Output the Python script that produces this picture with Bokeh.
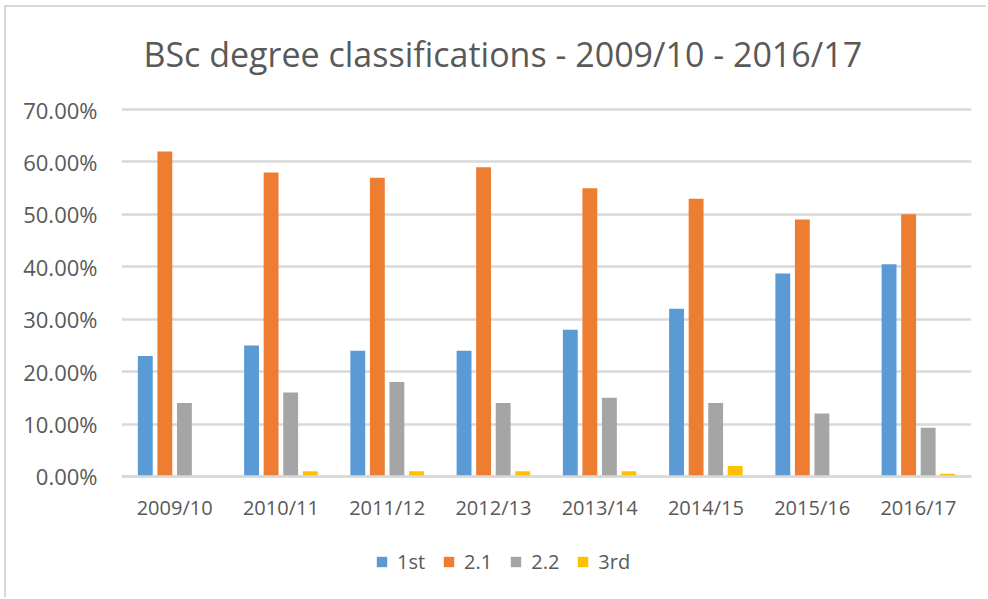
from bokeh.plotting import figure
from bokeh.models import (ColumnDataSource, FactorRange, NumeralTickFormatter, Legend, LegendItem,
                          FixedTicker, Label)
from bokeh.transform import dodge
from bokeh.embed import file_html
from bokeh.resources import INLINE

title_text = "BSc degree classifications - 2009/10 - 2016/17"
years = ["2009/10", "2010/11", "2011/12", "2012/13", "2013/14", "2014/15", "2015/16", "2016/17"]
first = [0.23, 0.25, 0.24, 0.24, 0.28, 0.32, 0.387, 0.405]
upper_second = [0.62, 0.58, 0.57, 0.59, 0.55, 0.53, 0.49, 0.50]
lower_second = [0.14, 0.16, 0.18, 0.14, 0.15, 0.14, 0.12, 0.093]
third = [0.0, 0.01, 0.01, 0.01, 0.01, 0.02, 0.0, 0.005]
series_names = ["1st", "2.1", "2.2", "3rd"]
y_ticks = [0.0, 0.1, 0.2, 0.3, 0.4, 0.5, 0.6, 0.7]

colors = ["#5B9BD5", "#ED7D31", "#A5A5A5", "#FFC000"]
FONT = "Open Sans"
TXT = "#595959"

source = ColumnDataSource(dict(years=years, s1=first, s2=upper_second, s3=lower_second, s4=third))

p = figure(x_range=FactorRange(*years, range_padding=0), y_range=(-0.2175, 0.8946),
           width=982, height=592, output_backend="svg", toolbar_location=None,
           min_border_left=115, min_border_right=17, min_border_top=0, min_border_bottom=9)

offsets = [-0.276, -0.092, 0.092, 0.276]
cols = ["s1", "s2", "s3", "s4"]
items = []
for col, off, c, name in zip(cols, offsets, colors, series_names):
    r = p.vbar(x=dodge("years", off, range=p.x_range), top=col, width=0.14, source=source,
               fill_color=c, line_color=None)
    items.append(LegendItem(label=name, renderers=[r]))

p.xaxis.fixed_location = 0
p.yaxis.ticker = FixedTicker(ticks=y_ticks)
p.yaxis.formatter = NumeralTickFormatter(format="0.00%")
for ax in (p.xaxis[0], p.yaxis[0]):
    ax.major_label_text_font = FONT
    ax.major_label_text_color = TXT
    ax.major_tick_line_color = None
    ax.minor_tick_line_color = None
p.yaxis.major_label_standoff = 18
p.xaxis.major_label_standoff = 12
p.yaxis.major_label_text_font_size = "22px"
p.xaxis.major_label_text_font_size = "20px"
p.yaxis.axis_line_color = None
p.xaxis.axis_line_color = "#D9D9D9"
p.xaxis.axis_line_width = 2.5
p.xgrid.grid_line_color = None
p.ygrid.grid_line_color = "#D9D9D9"
p.ygrid.grid_line_width = 2.5
p.outline_line_color = None

title = Label(x=22, y=537, x_units="screen", y_units="screen", text=title_text,
              text_font=FONT, text_font_size="34px", text_color=TXT,
              text_align="left", text_baseline="alphabetic")
p.add_layout(title)

legend = Legend(items=items, orientation="horizontal", location=(254, 15))
legend.label_text_font = FONT
legend.label_text_font_size = "20px"
legend.label_text_color = TXT
legend.glyph_width = 13
legend.glyph_height = 13
legend.label_standoff = 9
legend.spacing = 17
legend.border_line_color = None
legend.background_fill_alpha = 0
legend.padding = 0
legend.margin = 0
p.add_layout(legend, "center")

p.styles = {"border-left": "2px solid #D9D9D9", "border-top": "2px solid #D9D9D9",
            "margin-left": "4px", "margin-top": "5px"}

open("out.html", "w").write(file_html(p, INLINE))
